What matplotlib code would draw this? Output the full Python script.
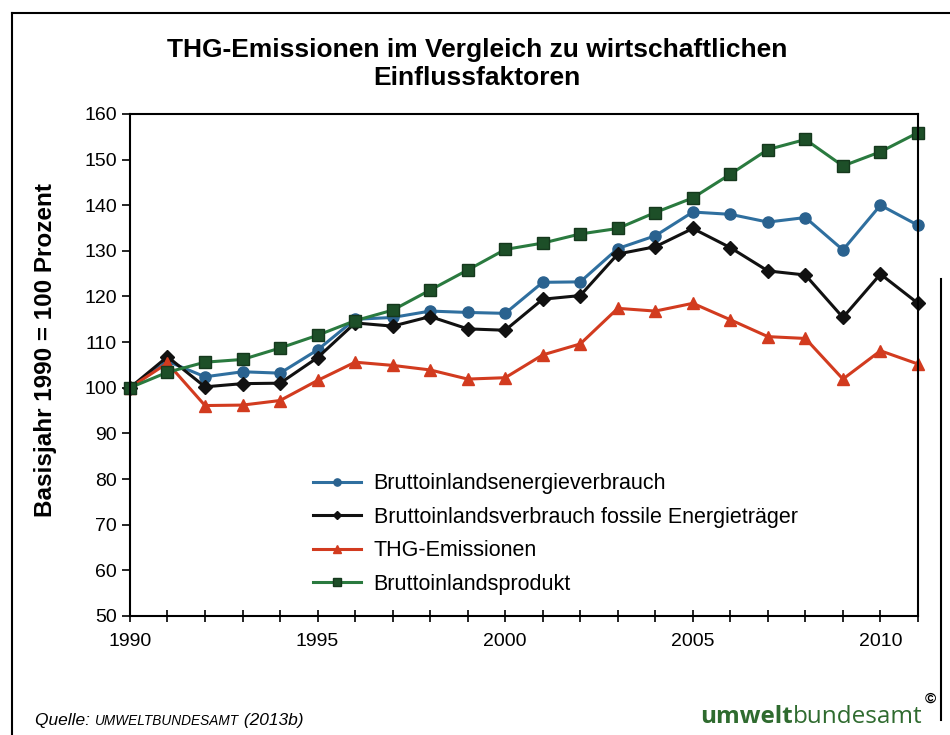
import matplotlib.pyplot as plt
from matplotlib.lines import Line2D
from matplotlib.transforms import offset_copy

# values (index 1990 = 100)
jahre = list(range(1990, 2012))
energie = [100, 105.8, 102.4, 103.5, 103.2, 108.3, 115.0, 115.4, 116.8, 116.5, 116.3,
           123.1, 123.2, 130.5, 133.3, 138.5, 138.0, 136.3, 137.3, 130.2, 140.0, 135.6]
fossil = [100, 106.8, 100.2, 100.9, 101.0, 106.6, 114.2, 113.5, 115.6, 112.9, 112.6,
          119.4, 120.2, 129.3, 130.9, 134.9, 130.7, 125.6, 124.7, 115.4, 124.9, 118.5]
thg = [100, 105.4, 96.1, 96.2, 97.2, 101.6, 105.6, 104.9, 103.9, 101.9, 102.2,
       107.2, 109.6, 117.4, 116.8, 118.5, 114.9, 111.2, 110.8, 101.9, 108.1, 105.2]
bip = [100, 103.4, 105.6, 106.2, 108.7, 111.5, 114.7, 117.0, 121.4, 125.8, 130.3,
       131.7, 133.7, 134.9, 138.4, 141.6, 146.8, 152.2, 154.4, 148.6, 151.7, 155.9]
namen = ["Bruttoinlandsenergieverbrauch",
         "Bruttoinlandsverbrauch fossile Energieträger",
         "THG-Emissionen",
         "Bruttoinlandsprodukt"]
yticks = list(range(50, 161, 10))
xlabels = [1990, 1995, 2000, 2005, 2010]

plt.rcParams['font.family'] = ['Liberation Sans', 'DejaVu Sans']

fig = plt.figure(figsize=(9.5, 7.35), dpi=100)
ax = fig.add_axes([0.1368, 0.162, 0.8295, 0.683])

ax.plot(jahre, energie, color='#2f6f9f', lw=2.2, marker='o', ms=8,
        mfc='#2a628f', mec='#2a628f', label=namen[0], clip_on=False)
ax.plot(jahre, fossil, color='#111111', lw=2.2, marker='D', ms=7,
        mfc='#111111', mec='#111111', label=namen[1], clip_on=False)
ax.plot(jahre, thg, color='#d23b1f', lw=2.2, marker='^', ms=9,
        mfc='#d23b1f', mec='#d23b1f', label=namen[2], clip_on=False)
ax.plot(jahre, bip, color='#2a7a3f', lw=2.2, marker='s', ms=8,
        mfc='#1d4f28', mec='#15381d', label=namen[3], clip_on=False)

ax.set_xlim(1990, 2011)
ax.set_ylim(50, 160)
ax.set_yticks(yticks)
ax.set_xticks(jahre, minor=True)
ax.set_xticks(xlabels)
ax.tick_params(axis='both', labelsize=14, colors='black')
ax.tick_params(axis='y', direction='out', length=6, width=1.2)
ax.tick_params(axis='x', which='both', direction='inout', length=8, width=1.2, pad=8)
for s in ax.spines.values():
    s.set_linewidth(1.5)

ax.set_ylabel("Basisjahr 1990 = 100 Prozent", fontsize=17.5, fontweight='bold')
ax.yaxis.set_label_coords(-0.092, 0.53)

leg = ax.legend(loc='lower left', bbox_to_anchor=(0.208, 0.004), frameon=False,
                fontsize=15.5, handlelength=2.2, handletextpad=0.6,
                markerscale=0.65, labelspacing=0.58)

fig.text(0.502, 0.913, "THG-Emissionen im Vergleich zu wirtschaftlichen\nEinflussfaktoren",
         ha='center', va='center', fontsize=19, fontweight='bold', linespacing=1.25)

# source line: pieces placed one after another
fig.canvas.draw()
r = fig.canvas.get_renderer()
t1 = fig.text(0.037, 0.014, "Quelle: ", fontsize=12.5, style='italic', ha='left', va='baseline')
w1 = t1.get_window_extent(r).width
t2 = fig.text(0.037, 0.014, "UMWELTBUNDESAMT", fontsize=9.8, style='italic', ha='left',
              va='baseline', transform=offset_copy(fig.transFigure, fig=fig, x=w1, units='dots'))
w2 = t2.get_window_extent(r).width
fig.text(0.037, 0.014, " (2013b)", fontsize=12.5, style='italic', ha='left', va='baseline',
         transform=offset_copy(fig.transFigure, fig=fig, x=w1 + w2, units='dots'))

# logo
gruen = '#2f6b2f'
l1 = fig.text(0.737, 0.016, "umwelt", fontsize=17.5, fontweight='bold', color=gruen,
              ha='left', va='baseline', family='Open Sans')
lw1 = l1.get_window_extent(r).width
fig.text(0.737, 0.016, "bundesamt", fontsize=17.5, color=gruen, ha='left', va='baseline',
         family='Open Sans', transform=offset_copy(fig.transFigure, fig=fig, x=lw1, units='dots'))
fig.text(0.979, 0.044, "\u00a9", fontsize=11, fontweight='bold', color='black',
         ha='center', va='baseline')

# scanned frame
fig.add_artist(Line2D([0.013, 1.0], [0.982, 0.982], color='black', lw=1.5))
fig.add_artist(Line2D([0.013, 0.013], [0.0, 0.982], color='black', lw=1.5))
fig.add_artist(Line2D([0.991, 0.991], [0.02, 0.62], color='black', lw=1.5))

fig.savefig("out.png", dpi=100)
